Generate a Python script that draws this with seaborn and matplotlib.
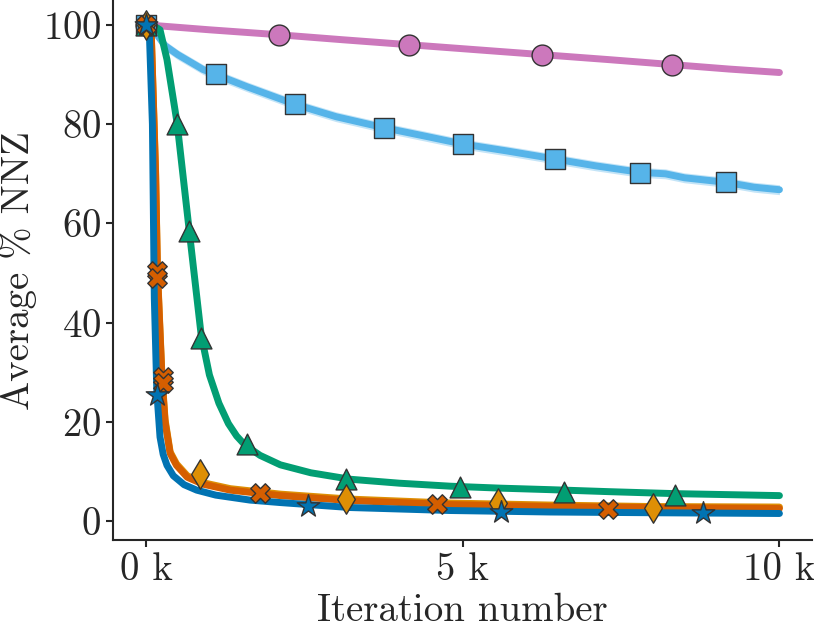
import matplotlib
matplotlib.use("Agg")
import matplotlib.pyplot as plt
import seaborn as sns
import pandas as pd

# Data (iterations, average % NNZ)
pink_x = [0, 1000, 2100, 3100, 4150, 5200, 6250, 7300, 8300, 9200, 10000]
pink_y = [100, 99.0, 98.0, 97.0, 96.0, 95.0, 94.0, 93.0, 92.0, 91.1, 90.4]
pink_mx = [0, 2100, 4150, 6250, 8300]
pink_my = [100, 98.0, 96.0, 94.0, 92.0]

sky_x = [0, 100, 200, 300, 500, 900, 1100, 1600, 2350, 3000, 3750, 4400,
         5000, 5700, 6450, 7100, 7800, 8200, 8500, 9150, 9600, 10000]
sky_y = [100, 99.5, 97.5, 95.8, 94.0, 91.0, 90.0, 87.5, 84.0, 81.5, 79.3, 77.6,
         76.0, 74.6, 73.0, 71.6, 70.3, 70.0, 69.2, 68.3, 67.3, 66.8]
sky_mx = [0, 1100, 2350, 3750, 5000, 6450, 7800, 9150]
sky_my = [100, 90.0, 84.0, 79.3, 76.0, 73.0, 70.2, 68.3]

green_x = [0, 120, 220, 330, 490, 680, 870, 1000, 1150, 1300, 1430, 1560,
           1800, 2120, 2600, 3220, 4000, 4800, 5600, 6380, 7300, 8350, 10000]
green_y = [100, 99.8, 99.0, 93.0, 80.2, 58.7, 37.5, 29.5, 23.8, 19.7, 17.2, 15.4,
           13.3, 11.4, 9.8, 8.5, 7.7, 7.1, 6.7, 6.4, 6.0, 5.6, 5.2]
green_mx = [0, 490, 680, 870, 1600, 3150, 4950, 6600, 8350]
green_my = [100, 80.0, 58.5, 37.0, 15.5, 8.5, 7.0, 6.0, 5.3]

yellow_x = [0, 80, 150, 180, 250, 300, 380, 480, 650, 900, 1330, 2120, 3220,
            4800, 6380, 8000, 10000]
yellow_y = [100, 99.0, 70.5, 50.5, 29.5, 20.5, 14.0, 11.6, 9.2, 7.8, 6.6, 5.5,
            4.5, 3.7, 3.3, 3.0, 2.9]
yellow_mx = [0, 850, 3150, 5550, 8000]
yellow_my = [100, 9.5, 4.5, 3.8, 2.8]

orange_x = [0, 80, 150, 180, 250, 300, 380, 480, 650, 900, 1330, 2120, 3220,
            4800, 6380, 8000, 10000]
orange_y = [100, 99.0, 70.0, 50.0, 29.0, 20.0, 13.7, 11.3, 8.9, 7.5, 6.3, 5.2,
            4.2, 3.4, 3.0, 2.8, 2.6]
orange_mx = [0, 180, 180, 270, 270, 1800, 4600, 7300]
orange_my = [100, 50.5, 49.0, 29.0, 27.8, 5.7, 3.5, 2.6]

blue_x = [0, 50, 100, 130, 170, 220, 270, 330, 430, 600, 800, 1100, 1640,
          2120, 3220, 4800, 6380, 8000, 10000]
blue_y = [100, 99.0, 80.0, 45.0, 26.0, 17.0, 13.5, 11.3, 9.2, 7.4, 6.3, 5.3,
          4.3, 3.8, 2.8, 2.2, 1.9, 1.75, 1.6]
blue_mx = [0, 170, 2560, 5600, 8800]
blue_my = [100, 25.4, 3.2, 2.0, 1.8]

pal = sns.color_palette("colorblind")
series = [
    (pink_x, pink_y, pink_mx, pink_my, pal[4], "o", 15),
    (sky_x, sky_y, sky_mx, sky_my, pal[9], "s", 14),
    (green_x, green_y, green_mx, green_my, pal[2], "^", 15),
    (yellow_x, yellow_y, yellow_mx, yellow_my, pal[1], "d", 15),
    (orange_x, orange_y, orange_mx, orange_my, pal[3], "X", 14),
    (blue_x, blue_y, blue_mx, blue_my, pal[0], "*", 17),
]

sns.set_style("ticks")
plt.rcParams["font.family"] = "serif"
plt.rcParams["font.serif"] = ["cmr10"]
plt.rcParams["mathtext.fontset"] = "cm"
plt.rcParams["axes.formatter.use_mathtext"] = True

fig, ax = plt.subplots(figsize=(8.14, 6.29), dpi=100)

for i, (x, y, mx, my, col, mk, ms) in enumerate(series):
    df = pd.DataFrame({"x": x, "y": y})
    sns.lineplot(data=df, x="x", y="y", color=col, linewidth=5, ax=ax, zorder=2 + i)
    if mk == "s":
        # thin confidence band around the sky-blue curve
        ax.fill_between(df["x"], df["y"] - 1.0, df["y"] + 1.0, color=col, alpha=0.35,
                        linewidth=0, zorder=2 + i)
    mdf = pd.DataFrame({"x": mx, "y": my})
    sns.scatterplot(data=mdf, x="x", y="y", color=col, marker=mk, s=ms ** 2,
                    edgecolor="#333333", linewidth=1.0, ax=ax, zorder=10 + i)

ax.set_xlim(-520, 10520)
ax.set_ylim(-3.8, 105)
ax.set_xticks([0, 5000, 10000])
ax.set_xticklabels(["0 k", "5 k", "10 k"])
ax.set_yticks([0, 20, 40, 60, 80, 100])
ax.tick_params(labelsize=28, width=1.5, length=5)
ax.set_xlabel("Iteration number", fontsize=28)
ax.set_ylabel("Average % NNZ", fontsize=28)
for sp in ["left", "bottom"]:
    ax.spines[sp].set_linewidth(1.5)
sns.despine(ax=ax)

fig.subplots_adjust(left=0.139, right=0.998, bottom=0.141, top=1.0)
fig.savefig("out.png", dpi=100)
